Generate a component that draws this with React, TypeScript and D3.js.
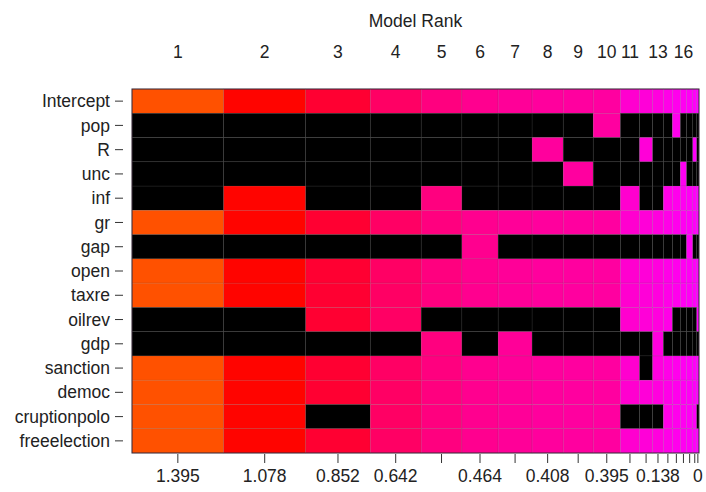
import * as d3 from 'd3';

// variables (rows, top to bottom)
const variables = ['Intercept', 'pop', 'R', 'unc', 'inf', 'gr', 'gap', 'open', 'taxre',
  'oilrev', 'gdp', 'sanction', 'democ', 'cruptionpolo', 'freeelection'];

// posterior model probabilities (column widths), best model first
const modelProb = [0.162, 0.145, 0.114, 0.090, 0.072, 0.064, 0.060, 0.055, 0.053, 0.048,
  0.034, 0.023, 0.019, 0.016, 0.014, 0.011, 0.011, 0.007, 0.004];

// value shown under each model (drives the colour)
const modelValue = [1.395, 1.078, 0.852, 0.642, 0.53, 0.464, 0.43, 0.408, 0.40, 0.395,
  0.2, 0.16, 0.138, 0.1, 0.08, 0.06, 0.04, 0.02, 0];

// which models get a label on top / bottom (0-based)
const topLabelIdx = [0, 1, 2, 3, 4, 5, 6, 7, 8, 9, 10, 12, 15];
const bottomLabelIdx = [0, 1, 2, 3, 5, 7, 9, 12, 18];

// inclusion: 1 = variable in model, one string per variable over the 19 models
const inclusion = [
  '1111111111111111111', // Intercept
  '0000000001000010000', // pop
  '0000000100010000010', // R
  '0000000010000001000', // unc
  '0100100000100111111', // inf
  '1111111111111111111', // gr
  '0000010000000000100', // gap
  '1111111111111111111', // open
  '1111111111111111111', // taxre
  '0011000000111100001', // oilrev
  '0000101000001000000', // gdp
  '1111111111101111111', // sanction
  '1111111111111111111', // democ
  '1101111111000111110', // cruptionpolo
  '1111111111111111111', // freeelection
];

const W = 706, H = 492;
const left = 132, right = 699, top = 89, bottom = 453;

export default function App() {
  const cum = [0];
  modelProb.forEach((p, i) => cum.push(cum[i] + p));
  const x = d3.scaleLinear().domain([0, cum[cum.length - 1]]).range([left, right]);
  const y = d3.scaleBand().domain(variables).range([top, bottom]);
  const color = d3.scaleLinear<string>()
    .domain([0, 1.395])
    .range(['hsl(300,100%,50%)', 'hsl(19,100%,50%)'])
    .interpolate(d3.interpolateHsl);
  const mid = (i: number) => x((cum[i] + cum[i + 1]) / 2);
  const font = 'Liberation Sans, Arial, sans-serif';
  const fs = 17.5;

  return (
    <div style={{ position: 'fixed', left: 0, top: 0 }}>
      <svg width={W} height={H} style={{ display: 'block', background: '#fff' }}>
        {variables.map((v, r) =>
          modelProb.map((_, c) => (
            <rect key={v + c}
              x={x(cum[c])} y={y(v)}
              width={x(cum[c + 1]) - x(cum[c])} height={y.bandwidth()}
              fill={inclusion[r][c] === '1' ? color(modelValue[c]) : '#000'}
              stroke="#555" strokeOpacity={0.25} strokeWidth={0.6} />
          ))
        )}
        <rect x={left} y={top} width={right - left} height={bottom - top}
          fill="none" stroke="#3a2a3a" strokeWidth={1} />

        {variables.map(v => (
          <g key={v} transform={`translate(0,${y(v)! + y.bandwidth() / 2})`}>
            <line x1={115} x2={123} stroke="#333" />
            <text x={110} dy="0.35em" textAnchor="end" fontSize={fs}
              fontFamily={font} fill="#222">{v}</text>
          </g>
        ))}

        <text x={(left + right) / 2} y={27} textAnchor="middle" fontSize={fs}
          fontFamily={font} fill="#222">Model Rank</text>
        {topLabelIdx.map(i => (
          <text key={i} x={mid(i)} y={58} textAnchor="middle" fontSize={fs}
            fontFamily={font} fill="#222">{i + 1}</text>
        ))}

        {modelProb.map((_, i) => (
          <line key={i} x1={mid(i)} x2={mid(i)} y1={bottom + 1} y2={bottom + 10} stroke="#333" />
        ))}
        {bottomLabelIdx.map(i => (
          <text key={i} x={mid(i)} y={482} textAnchor="middle" fontSize={fs}
            fontFamily={font} fill="#222">{String(modelValue[i])}</text>
        ))}
      </svg>
    </div>
  );
}
